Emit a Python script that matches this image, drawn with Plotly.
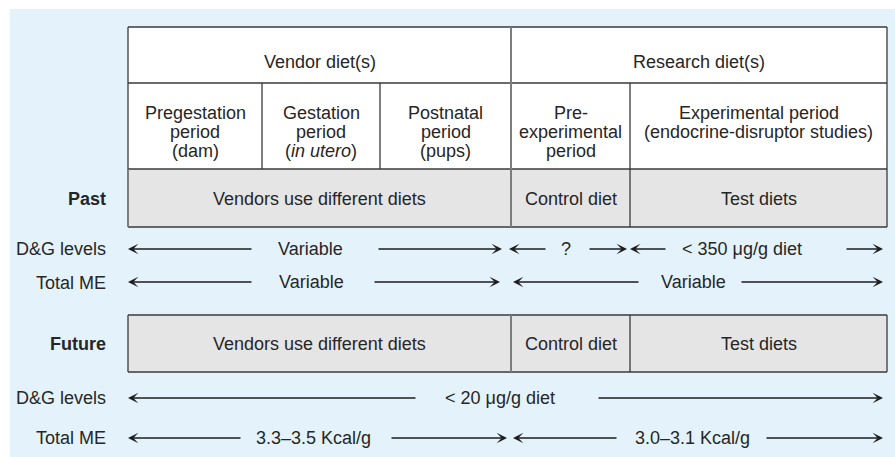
import plotly.graph_objects as go

# ---------------- content (text values) ----------------
header_labels = ["Vendor diet(s)", "Research diet(s)"]
period_labels = [
    ["Pregestation", "period", "(dam)"],
    ["Gestation", "period", "(<i>in utero</i>)"],
    ["Postnatal", "period", "(pups)"],
    ["Pre-", "experimental", "period"],
    ["Experimental period", "(endocrine-disruptor studies)"],
]
diet_labels = ["Vendors use different diets", "Control diet", "Test diets"]
era_labels = ["Past", "Future"]
measure_labels = ["D&G levels", "Total ME"]
past_dg_labels = ["Variable", "?", "< 350 \u03bcg/g diet"]
past_me_labels = ["Variable", "Variable"]
future_dg_labels = ["< 20 \u03bcg/g diet"]
future_me_labels = ["3.3\u20133.5 Kcal/g", "3.0\u20133.1 Kcal/g"]

# ---------------- layout geometry (pixels) ----------------
W, H = 895, 457
FONT = "Liberation Sans, Arial, sans-serif"
FS = 18
TXT = "#262626"
LINE = "#3a3a3a"
GRAYLINE = "#7d7d7d"
BG = "#e4f3fb"
CELL = "#e5e5e6"

X_L, X_R = 128, 887
COLS = [128, 262, 380, 511, 630, 887]
Y_TOP, Y_H1, Y_H2, Y_PAST_B = 27, 83, 169, 227
Y_FUT_T, Y_FUT_B = 315, 372
LABEL_X = 108

fig = go.Figure()
shapes = []
ann = []

# light blue panel
shapes.append(dict(type="rect", x0=10, x1=W + 5, y0=9, y1=H + 5, fillcolor=BG, line_width=0, layer="below"))
# white table header area
shapes.append(dict(type="rect", x0=X_L, x1=X_R, y0=Y_TOP, y1=Y_H2, fillcolor="white", line_width=0, layer="below"))
# gray rows
shapes.append(dict(type="rect", x0=X_L, x1=X_R, y0=Y_H2, y1=Y_PAST_B, fillcolor=CELL, line_width=0, layer="below"))
shapes.append(dict(type="rect", x0=X_L, x1=X_R, y0=Y_FUT_T, y1=Y_FUT_B, fillcolor=CELL, line_width=0, layer="below"))


def hline(y, x0, x1, color=LINE, w=1.3):
    shapes.append(dict(type="line", x0=x0, x1=x1, y0=y, y1=y, line=dict(color=color, width=w)))


def vline(x, y0, y1, color=LINE, w=1.3):
    shapes.append(dict(type="line", x0=x, x1=x, y0=y0, y1=y1, line=dict(color=color, width=w)))


# table grid
for y in (Y_TOP, Y_H1, Y_H2, Y_PAST_B):
    hline(y, X_L, X_R)
vline(X_L, Y_TOP, Y_H2)
vline(X_L, Y_H2, Y_PAST_B, GRAYLINE, 2)
vline(X_R, Y_TOP, Y_PAST_B)
vline(COLS[1], Y_H1, Y_H2)
vline(COLS[2], Y_H1, Y_H2)
vline(COLS[3], Y_TOP, Y_PAST_B, GRAYLINE, 2)
vline(COLS[4], Y_H1, Y_PAST_B)
# future box
hline(Y_FUT_T, X_L, X_R)
hline(Y_FUT_B, X_L, X_R)
vline(X_L, Y_FUT_T, Y_FUT_B)
vline(X_R, Y_FUT_T, Y_FUT_B)
vline(COLS[3], Y_FUT_T, Y_FUT_B, GRAYLINE, 2)
vline(COLS[4], Y_FUT_T, Y_FUT_B)


def text(x, y, s, anchor="center", bold=False):
    ann.append(dict(x=x, y=y, xref="x", yref="y", text=("<b>%s</b>" % s) if bold else s,
                    showarrow=False, xanchor=anchor, yanchor="middle",
                    font=dict(family=FONT, size=FS, color=TXT)))


# header
text((COLS[0] + COLS[3]) / 2, 62, header_labels[0])
text((COLS[3] + COLS[5]) / 2, 62, header_labels[1])
# periods
LINE_SP = 19
for i, lines in enumerate(period_labels):
    cx = (COLS[i] + COLS[i + 1]) / 2
    for j, s in enumerate(lines):
        text(cx, 113 + j * LINE_SP, s)
# diet cells
diet_spans = [(COLS[0], COLS[3]), (COLS[3], COLS[4]), (COLS[4], COLS[5])]
for (a, b), s in zip(diet_spans, diet_labels):
    text((a + b) / 2, 199, s)
    text((a + b) / 2, 344, s)

# row labels
text(LABEL_X, 199, era_labels[0], "right", bold=True)
text(LABEL_X, 344, era_labels[1], "right", bold=True)
text(LABEL_X, 249, measure_labels[0], "right")
text(LABEL_X, 283, measure_labels[1], "right")
text(LABEL_X, 398, measure_labels[0], "right")
text(LABEL_X, 438, measure_labels[1], "right")


def arrow(tail, head, y):
    ann.append(dict(x=head, y=y, ax=tail, ay=y, xref="x", yref="y", axref="x", ayref="y",
                    text="", showarrow=True, arrowhead=3, arrowsize=1.2, arrowwidth=1.45,
                    arrowcolor="#1e1e1e", standoff=0, startstandoff=0))


def span(y, labels, specs):
    # specs: (left tip, left line end, text centre, right line start, right tip)
    for s, (lt, le, tc, rs, rt) in zip(labels, specs):
        arrow(le, lt, y)
        arrow(rs, rt, y)
        text(tc, y, s)


span(249, past_dg_labels, [(128, 253, 310, 377, 502), (509, 547, 566, 588, 627), (630, 667, 742, 845, 883)])
span(282, past_me_labels, [(128, 253, 311, 373, 500), (513, 640, 693, 740, 883)])
span(398, future_dg_labels, [(128, 417, 500, 597, 883)])
span(438, future_me_labels, [(128, 242, 313, 390, 507), (513, 618, 692, 765, 883)])

fig.update_layout(
    width=W, height=H, margin=dict(l=0, r=0, t=0, b=0),
    paper_bgcolor="white", plot_bgcolor="white",
    xaxis=dict(range=[0, W], visible=False, fixedrange=True),
    yaxis=dict(range=[H, 0], visible=False, fixedrange=True),
    shapes=shapes, annotations=ann, showlegend=False,
)

fig.write_html("out.html", config={"displayModeBar": False},
               post_script="document.body.style.margin='0';")
